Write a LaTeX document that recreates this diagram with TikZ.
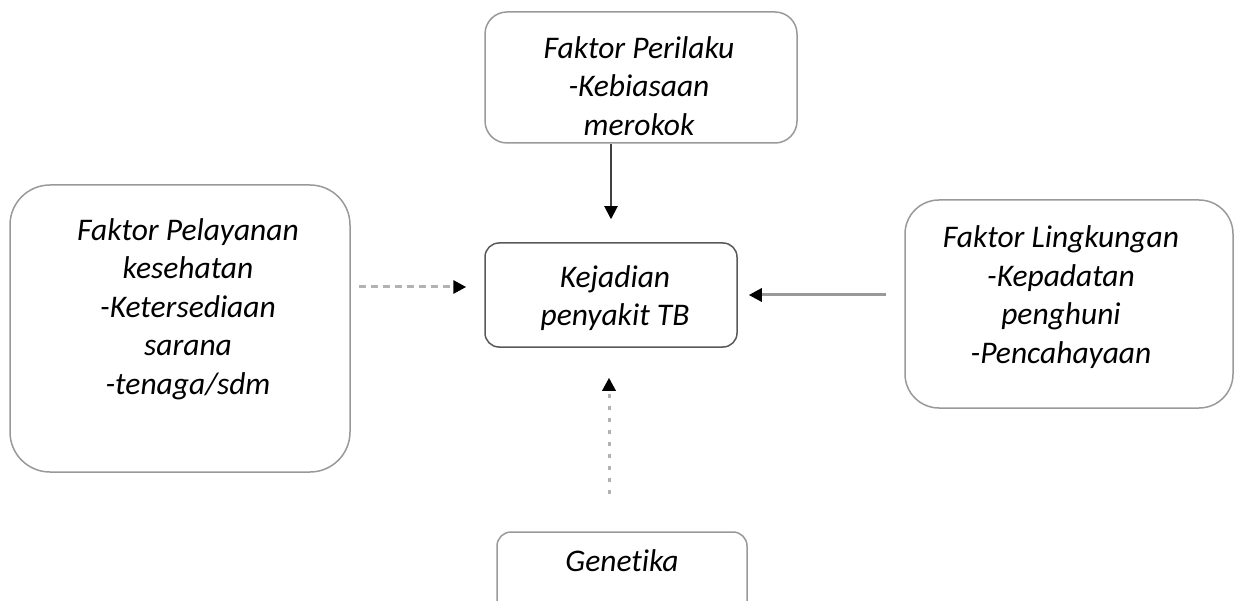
\documentclass[tikz,border=0pt]{standalone}
\usepackage{fontspec}
\setmainfont{Carlito}[Ligatures=CommonOff]
\usepackage{tikz}
\usetikzlibrary{positioning, arrows.meta}

\begin{document}
\begin{tikzpicture}[x=1pt, y=-1pt,
    kotak/.style={draw=black!40, line width=1.5pt, rounded corners=#1},
    teks/.style={font=\fontsize{31.5}{38.5}\selectfont\itshape, align=center, inner sep=0pt},
    panah/.style={line width=2pt, -{Triangle[length=13pt, width=13pt, color=black]}}]
    \clip (0,0) rectangle (1236,601);

    % Draw boxes
    \node[kotak=22pt, minimum width=312pt, minimum height=131pt] (perilaku) at (641,77.5) {};
    \node[kotak=14pt, draw=black!65, minimum width=252pt, minimum height=104pt] (kejadian) at (611,295) {};
    \node[kotak=40pt, minimum width=340pt, minimum height=287pt] (pelayanan) at (180,328.5) {};
    \node[kotak=34pt, minimum width=328pt, minimum height=208pt] (lingkungan) at (1069,304) {};
    \node[kotak=14pt, minimum width=250pt, minimum height=110pt] (genetika) at (622,587) {};

    % Texts in the boxes
    \node[teks] (perilakuteks) at (639,86) {Faktor Perilaku\\-Kebiasaan\\merokok};
    \node[teks] (kejadianteks) at (615,298) {Kejadian\\penyakit TB};
    \node[teks] (pelayananteks) at (188,309) {Faktor Pelayanan\\kesehatan\\-Ketersediaan\\sarana\\-tenaga/sdm};
    \node[teks] (lingkunganteks) at (1061,297) {Faktor Lingkungan\\-Kepadatan\\penghuni\\-Pencahayaan};
    \node[teks] (genetikateks) at (622,561) {Genetika};

    % Draw arrows to the centre box
    \draw[panah, draw=black!75, shorten >=23pt] (perilaku.south -| kejadian) -- (kejadian.north);
    \draw[panah, draw=black!30, line width=3pt, dash pattern=on 7pt off 5pt, shorten <=8pt, shorten >=18pt]
        ([yshift=8pt]pelayanan.east |- kejadian.west) -- ([yshift=8pt]kejadian.west);
    \draw[panah, draw=black!40, line width=3pt, shorten <=18pt, shorten >=11pt]
        (lingkungan.west |- kejadian.east) -- (kejadian.east);
    \draw[panah, draw=black!30, line width=3pt, dash pattern=on 4pt off 8pt, shorten <=37pt, shorten >=30pt]
        ([xshift=-2pt]genetika.north -| kejadian) -- ([xshift=-2pt]kejadian.south);
\end{tikzpicture}
\end{document}
